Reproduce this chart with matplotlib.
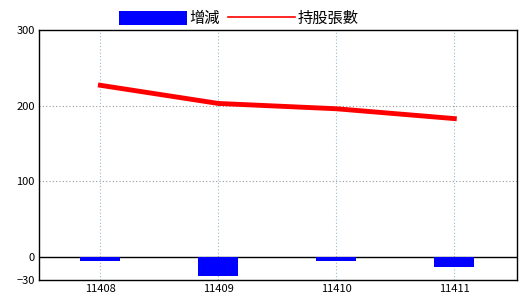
import matplotlib
matplotlib.use("Agg")
import matplotlib.pyplot as plt
from matplotlib.patches import Patch
from matplotlib.lines import Line2D
import numpy as np

plt.rcParams['font.family'] = ['Noto Sans CJK TC', 'DejaVu Sans']

months = ["11408", "11409", "11410", "11411"]
change = [-5, -25, -5, -13]      # 增減
holding = [227, 203, 196, 183]   # 持股張數

x = np.arange(len(months))

fig = plt.figure(figsize=(5.2, 3.0), dpi=100)
ax = fig.add_axes([0.075, 0.067, 0.919, 0.833])

ax.bar(x, change, width=0.34, color="#0000ff", zorder=3)
ax.plot(x, holding, color="#ff0000", linewidth=3.5, zorder=4)
ax.axhline(0, color="black", linewidth=1, zorder=2)

ax.set_xlim(-0.52, 3.53)
ax.set_ylim(-30, 300)
ax.set_yticks([-30, 0, 100, 200, 300])
ax.set_xticks(x)
ax.set_xticklabels(months)
ax.tick_params(axis="both", length=0, labelsize=8, pad=3)

for yv in [100, 200]:
    ax.axhline(yv, color="#999999", linewidth=0.8, linestyle=(0, (1, 2)), zorder=1)
for xv in x:
    ax.axvline(xv, color="#99bbcc", linewidth=0.8, linestyle=(0, (1, 2)), zorder=1)

for s in ax.spines.values():
    s.set_color("black")
    s.set_linewidth(1)

# legend above the plot: bar first, thin line second
handles = [Patch(facecolor="#0000ff", edgecolor="none"),
           Line2D([], [], color="#ff0000", linewidth=1.2)]
fig.legend(handles, ["增減", "持股張數"], loc="upper center",
           bbox_to_anchor=(0.46, 1.012), ncol=2, frameon=False, fontsize=11,
           handlelength=4.4, handleheight=1.1, handletextpad=0.2,
           columnspacing=0.5)

fig.savefig("out.png", dpi=100)
